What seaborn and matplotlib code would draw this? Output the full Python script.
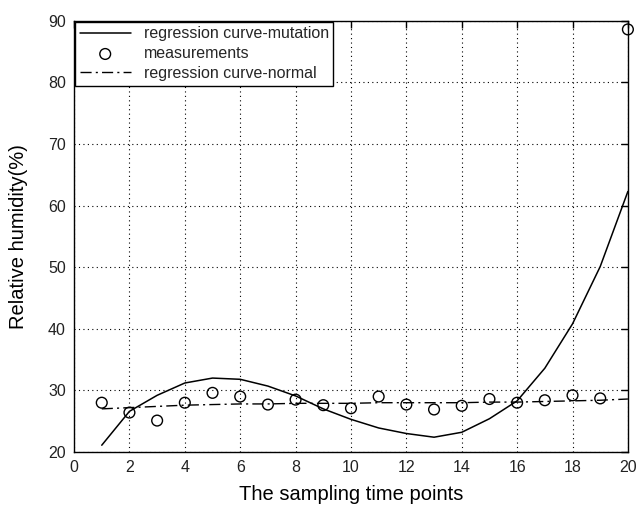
import matplotlib
matplotlib.use("Agg")
import matplotlib.pyplot as plt
import seaborn as sns
import pandas as pd

# Data
time_points = list(range(1, 21))
measurements = [28.0, 26.4, 25.1, 28.0, 29.6, 29.0, 27.7, 28.5, 27.6, 27.1,
                29.0, 27.7, 26.9, 27.5, 28.6, 28.0, 28.4, 29.2, 28.7, 88.6]
curve_mutation = [21.1, 26.6, 29.2, 31.2, 32.0, 31.8, 30.7, 29.1, 27.0, 25.3,
                  23.9, 23.0, 22.4, 23.2, 25.4, 28.3, 33.6, 40.8, 50.1, 62.3]
curve_normal = [27.0, 27.2, 27.4, 27.6, 27.7, 27.8, 27.8, 27.9, 27.9, 27.9,
                28.0, 28.0, 28.0, 28.0, 28.1, 28.1, 28.2, 28.3, 28.4, 28.6]
x_ticks = [0, 2, 4, 6, 8, 10, 12, 14, 16, 18, 20]
y_ticks = [20, 30, 40, 50, 60, 70, 80, 90]

df = pd.DataFrame({"t": time_points, "meas": measurements,
                   "mut": curve_mutation, "norm": curve_normal})

sns.set_style("white")
plt.rcParams['font.family'] = ['Liberation Sans', 'DejaVu Sans']

fig = plt.figure(figsize=(6.44, 5.07), dpi=100)
ax = fig.add_axes([0.115, 0.1085, 0.86, 0.8505])

sns.lineplot(data=df, x="t", y="mut", ax=ax, color="black", linewidth=1.1,
             label="regression curve-mutation")
sns.scatterplot(data=df, x="t", y="meas", ax=ax, marker="o", s=60,
                facecolor="none", edgecolor="black", linewidth=1.0,
                label="measurements", clip_on=False, zorder=5)
sns.lineplot(data=df, x="t", y="norm", ax=ax, color="black", linewidth=1.0,
             dashes=False, label="regression curve-normal")
ax.lines[-1].set_dashes([8, 3, 1.5, 3])

ax.set_xlim(0, 20)
ax.set_ylim(20, 90)
ax.set_xticks(x_ticks)
ax.set_yticks(y_ticks)
ax.set_xlabel("The sampling time points", fontsize=14.5, color="black",
              labelpad=7)
ax.set_ylabel("Relative humidity(%)", fontsize=14.5, color="black",
              labelpad=14)

ax.grid(True, linestyle=(0, (1, 3)), color="black", linewidth=0.8)
ax.tick_params(direction="in", length=5, width=1, top=True, right=True,
               labelsize=11.5, colors="black", pad=6)
ax.tick_params(axis="both", labelcolor="#222222")
for sp in ax.spines.values():
    sp.set_visible(True)
    sp.set_color("black")
    sp.set_linewidth(1.0)

leg = ax.legend(loc="upper left", fontsize=11.5, frameon=True, fancybox=False,
                edgecolor="black", framealpha=1, handlelength=3.2,
                labelspacing=0.3, borderaxespad=0.05, borderpad=0.3)
leg.get_frame().set_linewidth(1.0)

fig.savefig("out.png", dpi=100, facecolor="white")
